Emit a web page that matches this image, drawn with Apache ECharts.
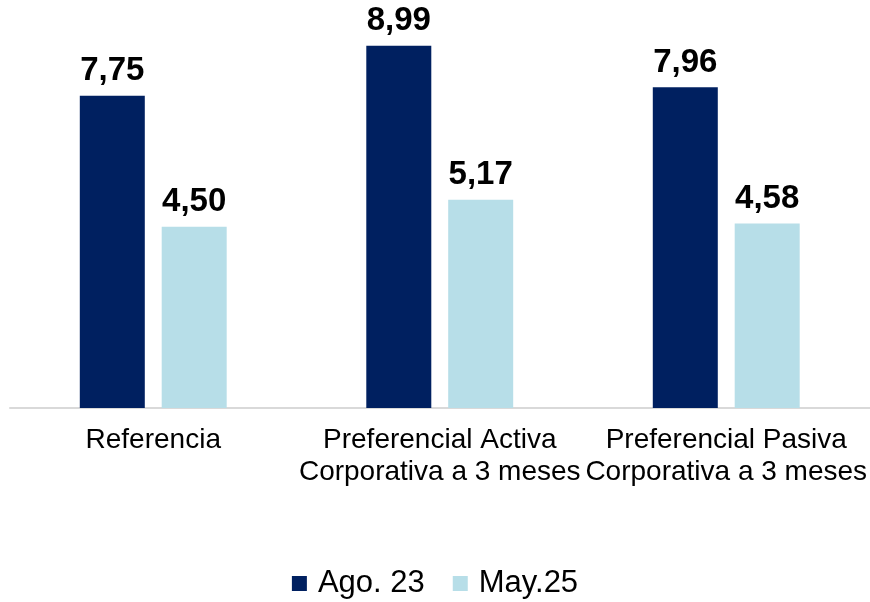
<!DOCTYPE html>
<html>
<head>
<meta charset="utf-8">
<script src="https://cdn.jsdelivr.net/npm/echarts@6/dist/echarts.min.js"></script>
<style>
  html, body { margin: 0; padding: 0; background: #fff; }
  #chart { width: 870px; height: 602px; }
</style>
</head>
<body>
<div id="chart"></div>
<script>
const categories = ['Referencia', 'Preferencial Activa\nCorporativa a 3 meses', 'Preferencial Pasiva\nCorporativa a 3 meses'];
const seriesNames = ['Ago. 23', 'May.25'];
const ago23 = [7.75, 8.99, 7.96];
const may25 = [4.50, 5.17, 4.58];

const fmt = p => p.value.toFixed(2).replace('.', ',');
const font = 'Liberation Sans, Arial, sans-serif';

const chart = echarts.init(document.getElementById('chart'));
chart.setOption({
  animation: false,
  textStyle: { fontFamily: font },
  grid: { left: 10, right: 0, top: 5, bottom: 194, containLabel: false },
  legend: {
    top: 563,
    left: 'center',
    itemWidth: 15,
    itemHeight: 15,
    itemGap: 28,
    icon: 'rect',
    textStyle: { fontSize: 31, color: '#000', fontFamily: font, padding: [0, 0, 0, 6] },
    data: seriesNames
  },
  xAxis: {
    type: 'category',
    data: categories,
    axisLine: { lineStyle: { color: '#d9d9d9', width: 2 } },
    axisTick: { show: false },
    axisLabel: {
      interval: 0,
      margin: 16,
      fontSize: 28,
      lineHeight: 32,
      color: '#000',
      fontFamily: font
    }
  },
  yAxis: {
    type: 'value',
    min: 0,
    max: 10,
    show: false,
    splitLine: { show: false }
  },
  series: [
    {
      name: seriesNames[0],
      type: 'bar',
      data: ago23,
      barWidth: 65,
      barGap: '26%',
      itemStyle: { color: '#002060' },
      label: { show: true, position: 'top', distance: 8, formatter: fmt, fontSize: 33, fontWeight: 'bold', color: '#000', fontFamily: font }
    },
    {
      name: seriesNames[1],
      type: 'bar',
      data: may25,
      barWidth: 65,
      itemStyle: { color: '#b7dee8' },
      label: { show: true, position: 'top', distance: 8, formatter: fmt, fontSize: 33, fontWeight: 'bold', color: '#000', fontFamily: font }
    }
  ]
});
</script>
</body>
</html>
